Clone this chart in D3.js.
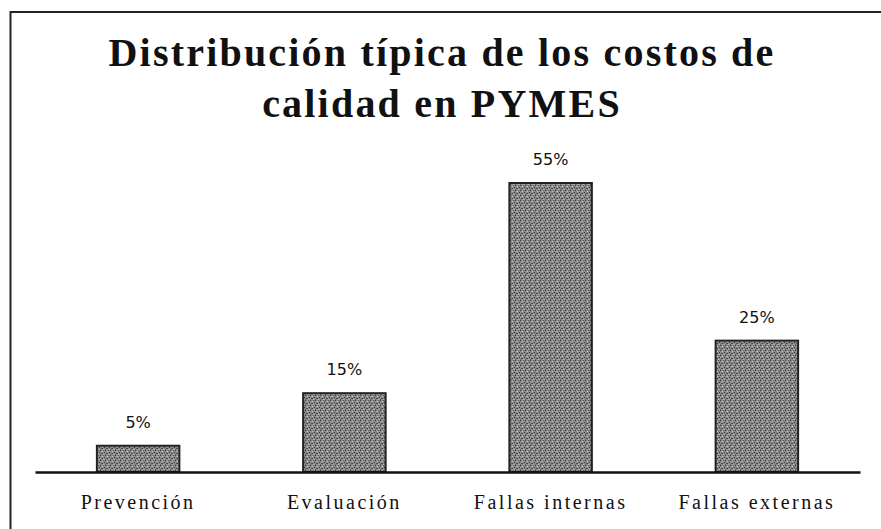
<!DOCTYPE html>
<html><head><meta charset="utf-8">
<script src="https://cdn.jsdelivr.net/npm/d3@7"></script>
<style>body{margin:0;background:#fff}</style>
</head><body>
<script>
const categories = ["Prevención", "Evaluación", "Fallas internas", "Fallas externas"];
const values = [5, 15, 55, 25];
const valueLabels = ["5%", "15%", "55%", "25%"];
const titleLines = ["Distribución típica de los costos de", "calidad en PYMES"];

const W = 881, H = 529;
const svg = d3.select("body").append("svg").attr("width", W).attr("height", H);

// speckled texture for bars
const pat = svg.append("defs").append("pattern").attr("id", "speck")
  .attr("width", 5).attr("height", 5).attr("patternUnits", "userSpaceOnUse");
pat.append("rect").attr("width", 5).attr("height", 5).attr("fill", "#8c8c8c");
[[0,0,"#3a3a3a"],[2,1,"#c8c8c8"],[4,2,"#333"],[1,3,"#555"],[3,4,"#b5b5b5"],[3,0,"#5a5a5a"],[0,4,"#666"],[2,3,"#444"],[4,4,"#a0a0a0"]]
  .forEach(([px, py, c]) => pat.append("rect").attr("x", px).attr("y", py).attr("width", 1).attr("height", 1).attr("fill", c));

// frame
svg.append("path").attr("d", `M10.5,${H} L10.5,12 L${W},12`)
  .attr("fill", "none").attr("stroke", "#222").attr("stroke-width", 2);

// title
svg.selectAll("text.title").data(titleLines).enter().append("text")
  .attr("class", "title")
  .attr("x", 442).attr("y", (d, i) => 66 + i * 51)
  .attr("text-anchor", "middle")
  .attr("font-family", "Liberation Serif, Times New Roman, serif")
  .attr("font-size", 40).attr("font-weight", "bold").attr("fill", "#111")
  .attr("letter-spacing", 2.2)
  .text(d => d);

const x = d3.scaleBand().domain(categories).range([35, 860]).paddingInner(0.6).paddingOuter(0.3);
const y = d3.scaleLinear().domain([0, 55]).range([472, 183]);

svg.selectAll("rect.bar").data(values).enter().append("rect")
  .attr("class", "bar")
  .attr("x", (d, i) => x(categories[i]))
  .attr("width", x.bandwidth())
  .attr("y", d => y(d))
  .attr("height", d => y(0) - y(d))
  .attr("fill", "url(#speck)").attr("stroke", "#222").attr("stroke-width", 2);

// baseline axis
const ax = svg.append("g").attr("transform", `translate(0,${y(0)})`)
  .call(d3.axisBottom(x).tickSize(0).tickPadding(23));
ax.select(".domain").attr("stroke", "#111").attr("stroke-width", 2.5);
ax.selectAll(".tick text")
  .attr("font-family", "Liberation Serif, Times New Roman, serif")
  .attr("font-size", 20).attr("fill", "#111").attr("letter-spacing", 2.5);

svg.selectAll("text.val").data(values).enter().append("text")
  .attr("class", "val")
  .attr("x", (d, i) => x(categories[i]) + x.bandwidth() / 2)
  .attr("y", d => y(d) - 18)
  .attr("text-anchor", "middle")
  .attr("font-family", "DejaVu Sans, sans-serif")
  .attr("font-size", 16).attr("fill", "#111")
  .text((d, i) => valueLabels[i]);
</script>
</body></html>
